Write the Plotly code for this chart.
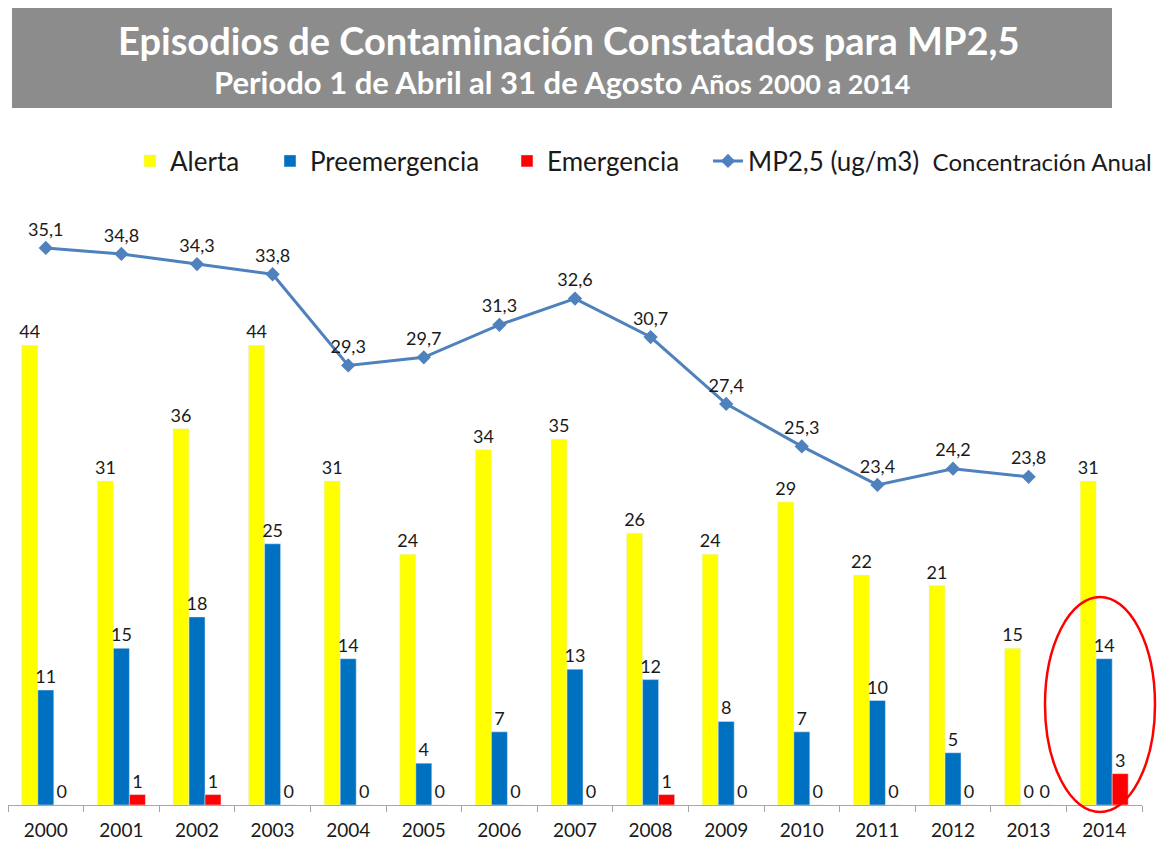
import plotly.graph_objects as go

years = [str(y) for y in range(2000, 2015)]
alerta = [44, 31, 36, 44, 31, 24, 34, 35, 26, 24, 29, 22, 21, 15, 31]
preemergencia = [11, 15, 18, 25, 14, 4, 7, 13, 12, 8, 7, 10, 5, 0, 14]
emergencia = [0, 1, 1, 0, 0, 0, 0, 0, 1, 0, 0, 0, 0, 0, 3]
mp25 = [35.1, 34.8, 34.3, 33.8, 29.3, 29.7, 31.3, 32.6, 30.7, 27.4, 25.3, 23.4, 24.2, 23.8, None]

FONT = "Lato"
OFF = 8  # browser body margin
W, H = 1165 - OFF, 842 - OFF
# plot area in page pixels: x 8..1142, y 178..805
L = 8 - OFF
T = 178 - OFF
R = W - (1142 - OFF)
B = H - (805 - OFF)
pw, ph = W - L - R, H - T - B

def px_x(x):
    return (x - OFF - L) / pw

def px_y(y):
    return (H - B - (y - OFF)) / ph

lab_font = dict(family=FONT, size=18, color="#1a1a1a")

fig = go.Figure()
fig.add_bar(x=years, y=alerta, name="Alerta", marker_color="#FFFF00", legend="legend",
            text=alerta, textposition="outside", textfont=lab_font, cliponaxis=False)
fig.add_bar(x=years, y=preemergencia, name="Preemergencia", marker_color="#0070C0", legend="legend2",
            text=preemergencia, textposition="outside", textfont=lab_font, cliponaxis=False)
fig.add_bar(x=years, y=emergencia, name="Emergencia", marker_color="#FF0000", legend="legend3",
            text=emergencia, textposition="outside", textfont=lab_font, cliponaxis=False)
fig.add_scatter(x=years, y=mp25,
                name="MP2,5 (ug/m3)  <span style='font-size:24px'>Concentración Anual</span>",
                yaxis="y2", legend="legend4",
                mode="lines+markers+text", line=dict(color="#4F81BD", width=3),
                marker=dict(symbol="diamond", size=11, color="#4F81BD"),
                texttemplate="%{y:.1f}", textposition="top center",
                textfont=lab_font, cliponaxis=False)

fig.update_traces(selector=dict(type="bar"), constraintext="none")

def leg(xtext):
    return dict(orientation="h", x=px_x(xtext - 40), y=px_y(161), xanchor="left", yanchor="middle",
                font=dict(family=FONT, size=26, color="#1a1a1a"), itemwidth=30,
                bgcolor="rgba(0,0,0,0)")

fig.update_layout(
    width=W, height=H,
    margin=dict(l=L, r=R, t=T, b=B, autoexpand=False),
    paper_bgcolor="white", plot_bgcolor="white",
    separators=",.",
    barmode="group", bargap=0.365, bargroupgap=0,
    font=dict(family=FONT, color="#1a1a1a"),
    showlegend=True,
    legend=leg(170), legend2=leg(310), legend3=leg(547), legend4=leg(748),
    xaxis=dict(type="category", range=[-0.5, 14.5], autorange=False,
               showgrid=False, showline=True, linecolor="#A6A6A6",
               linewidth=1, ticks="outside", tickson="boundaries", ticklen=6,
               tickcolor="#A6A6A6", ticklabelstandoff=8,
               tickfont=dict(family=FONT, size=19, color="#1a1a1a")),
    yaxis=dict(range=[0, 60], visible=False, showgrid=False),
    yaxis2=dict(range=[7.6, 38.55], overlaying="y", visible=False, showgrid=False),
)

# title box
fig.add_shape(type="rect", xref="paper", yref="paper",
              x0=px_x(12), x1=px_x(1112), y0=px_y(108), y1=px_y(5),
              fillcolor="#8C8C8C", line=dict(width=0), layer="below")
fig.add_annotation(xref="paper", yref="paper", x=px_x(568), y=px_y(40),
                   xanchor="center", yanchor="middle",
                   text="<b>Episodios de Contaminación Constatados para MP2,5</b>",
                   showarrow=False, font=dict(family=FONT, size=38, color="white"))
fig.add_annotation(xref="paper", yref="paper", x=px_x(562), y=px_y(82),
                   xanchor="center", yanchor="middle",
                   text="<b>Periodo 1 de Abril al 31 de Agosto</b> <b><span style='font-size:27px'>Años 2000 a 2014</span></b>",
                   showarrow=False, font=dict(family=FONT, size=31, color="white"))

# red ellipse highlight
fig.add_shape(type="circle", xref="paper", yref="paper",
              x0=px_x(1045), x1=px_x(1155), y0=px_y(812), y1=px_y(597),
              line=dict(color="#FF0000", width=2.5), fillcolor="rgba(0,0,0,0)")

fig.write_html("out.html")
